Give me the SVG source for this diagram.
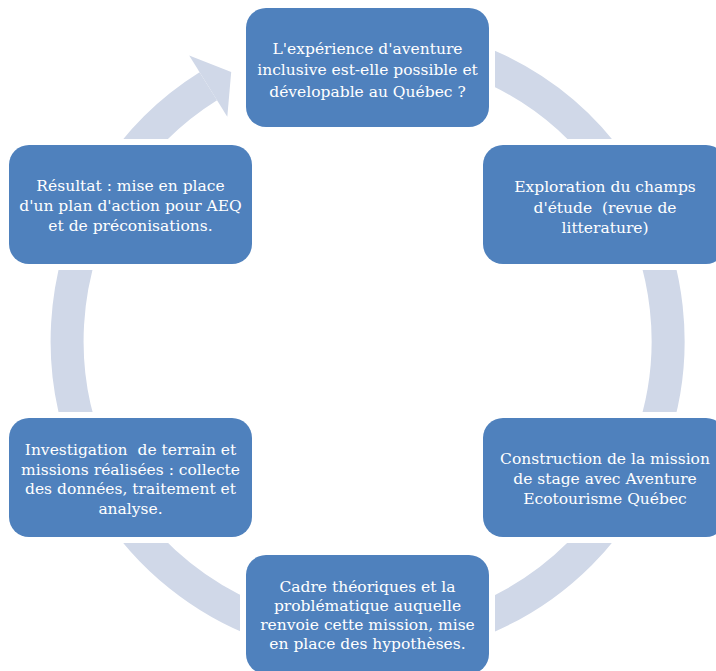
<svg xmlns="http://www.w3.org/2000/svg" width="716" height="671" viewBox="0 0 716 671">
<style>
.node rect{fill:#4f81bd;stroke:#ffffff;stroke-width:12;paint-order:stroke}
.node text{fill:#ffffff;font-family:"DejaVu Serif","Liberation Serif",serif;font-size:15.5px;text-anchor:middle;white-space:pre}
.ring{fill:none;stroke:#d0d8e8;stroke-width:33}
.head{fill:#d0d8e8}
</style>
<rect width="716" height="671" fill="#ffffff"/>
<g id="connectors">
<path class="ring" d="M 367.5 40.5 A 300.5 300.5 0 1 1 208.3 86.2"/>
<polygon class="head" points="189.2,55.6 231.2,71.9 227.3,116.7"/>
</g>
<g id="node-top" class="node">
<rect x="246" y="8" width="243" height="119" rx="20"/>
<text x="367.5" y="53.5">L'expérience d'aventure</text>
<text x="367.5" y="75">inclusive est-elle possible et</text>
<text x="367.5" y="96.5">dévelopable au Québec ?</text>
</g>
<g id="node-exploration" class="node">
<rect x="483" y="145" width="243" height="119" rx="20"/>
<text x="605" y="192">Exploration du champs</text>
<text x="605" y="212.5" xml:space="preserve">d'étude  (revue de</text>
<text x="605" y="233">litterature)</text>
</g>
<g id="node-construction" class="node">
<rect x="483" y="418" width="243" height="119" rx="20"/>
<text x="605" y="463.5">Construction de la mission</text>
<text x="605" y="483.5">de stage avec Aventure</text>
<text x="605" y="503.5">Ecotourisme Québec</text>
</g>
<g id="node-cadre" class="node">
<rect x="246" y="555" width="243" height="119" rx="20"/>
<text x="367.5" y="591.5">Cadre théoriques et la</text>
<text x="367.5" y="610.5">problématique auquelle</text>
<text x="367.5" y="629.5">renvoie cette mission, mise</text>
<text x="367.5" y="648.5">en place des hypothèses.</text>
</g>
<g id="node-investigation" class="node">
<rect x="9" y="418" width="243" height="119" rx="20"/>
<text x="130.5" y="455" xml:space="preserve">Investigation  de terrain et</text>
<text x="130.5" y="474.5">missions réalisées : collecte</text>
<text x="130.5" y="494">des données, traitement et</text>
<text x="130.5" y="513.5">analyse.</text>
</g>
<g id="node-resultat" class="node">
<rect x="9" y="145" width="243" height="119" rx="20"/>
<text x="130.5" y="191">Résultat : mise en place</text>
<text x="130.5" y="211">d'un plan d'action pour AEQ</text>
<text x="130.5" y="231">et de préconisations.</text>
</g>
</svg>
